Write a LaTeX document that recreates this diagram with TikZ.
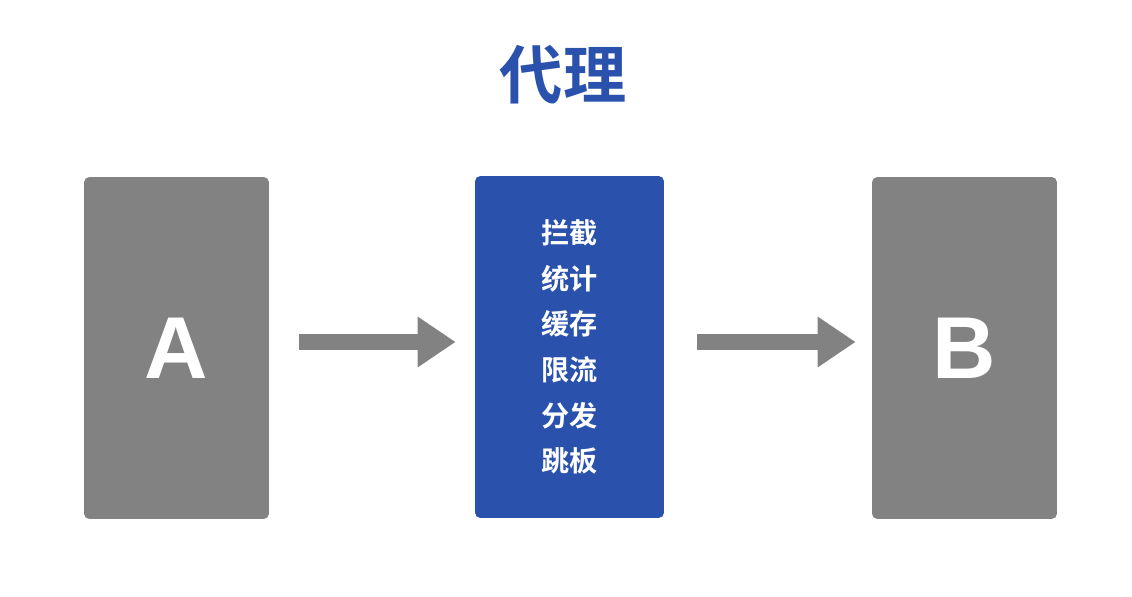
\documentclass[tikz,border=0pt]{standalone}
\usepackage{fontspec}
\setmainfont{Liberation Sans}
\newfontfamily\cjk{Noto Sans CJK SC Bold}
\usetikzlibrary{arrows.meta, positioning}
\definecolor{proxyblue}{HTML}{2A52AD}
\definecolor{boxgray}{HTML}{828282}
\begin{document}
\begin{tikzpicture}[x=0.02cm, y=-0.02cm]
        % Styles
        \tikzset{
            sidebox/.style={rectangle, fill=boxgray, rounded corners=3pt, minimum width=3.7cm, minimum height=6.84cm, text=white, font=\fontsize{50}{50}\selectfont\bfseries},
            proxybox/.style={rectangle, fill=proxyblue, rounded corners=3pt, minimum width=3.78cm, minimum height=6.84cm, text=white, align=center, font=\cjk\fontsize{16}{26}\selectfont},
            bigarrow/.style={draw=boxgray, line width=0.32cm, -{Triangle[length=0.76cm, width=0.96cm]}}
        }
        \useasboundingbox (0,0) rectangle (1132,597);

        % Nodes
        \node (title) at (563,75) [text=proxyblue, font=\cjk\fontsize{36}{36}\selectfont] {代理};
        \node (a) at (176.5,348) [sidebox] {A};
        \node (proxy) at (569.5,347) [proxybox] {拦截\\统计\\缓存\\限流\\分发\\跳板};
        \node (b) at (964.5,348) [sidebox] {B};

        % Arrows
        \draw [bigarrow] ([xshift=0.6cm]a.east |- 0,342) -- ([xshift=-0.38cm]proxy.west |- 0,342);
        \draw [bigarrow] ([xshift=0.66cm]proxy.east |- 0,342) -- ([xshift=-0.32cm]b.west |- 0,342);
\end{tikzpicture}
\end{document}
